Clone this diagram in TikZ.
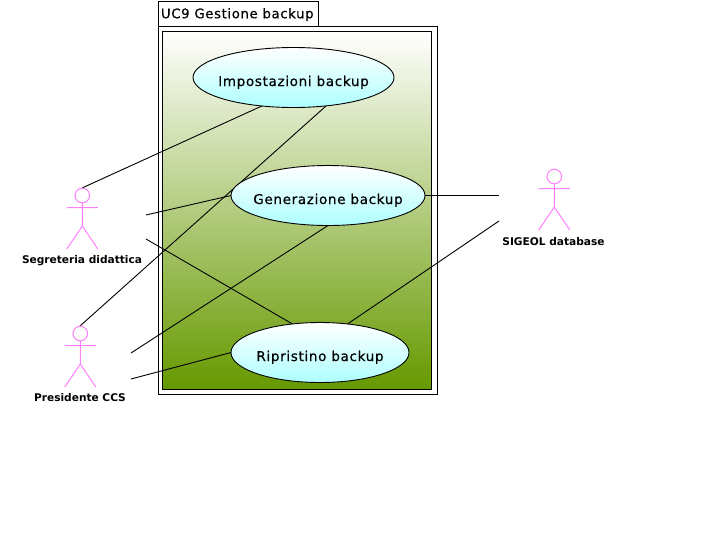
\documentclass[tikz,border=0pt]{standalone}
\usepackage{fontspec}
\setmainfont{DejaVu Sans}
\newfontfamily\ucfont[LetterSpace=5,FakeBold=0.5]{DejaVu Sans}
\usetikzlibrary{shapes.geometric}
\definecolor{actorpink}{HTML}{FF80FF}
\definecolor{boxgreen}{HTML}{669900}
\definecolor{usecyan}{HTML}{AEFFFF}
\pgfdeclarelayer{backdrop}
\pgfdeclarelayer{links}
\pgfsetlayers{backdrop,links,main}
\newcommand{\uclabel}[1]{\raisebox{-8.5pt}[0pt][0pt]{\makebox[0pt]{#1}}}
\tikzset{
  x=1pt,y=-1pt,
  box/.style={draw=black,line width=1pt,inner sep=0,outer sep=0},
  uctext/.style={font=\ucfont\fontsize{13.5}{15}\selectfont},
  usecase/.style={ellipse,draw=black,line width=0.9pt,inner sep=0,outer sep=0,top color=white,bottom color=usecyan,uctext},
  link/.style={draw=black,line width=0.9pt},
  actorline/.style={draw=actorpink,line width=1pt},
  actorlabel/.style={font=\fontsize{10.6}{12}\selectfont\bfseries,inner sep=0,anchor=base},
  pics/actor/.style={code={
    \draw[actorline] (0,0) circle[radius=7.3];
    \draw[actorline] (0,7.3) -- (0,30.5) (-15.5,12) -- (15.5,12) (-15.5,53.5) -- (0,30.5) -- (15.5,53.5);
  }}
}
\begin{document}
\begin{tikzpicture}
\useasboundingbox (0,0) rectangle (715,547);
\begin{pgfonlayer}{backdrop}
\fill[white] (0,0) rectangle (715,547);
\node[box,anchor=north west,minimum width=279pt,minimum height=368pt,fill=white] (pkg) at (158,26.5) {};
\node[box,anchor=north west,minimum width=160pt,minimum height=25.5pt,fill=white,font=\ucfont\fontsize{13.2}{15}\selectfont] (tab) at (158,1) {\raisebox{-4.5pt}[0pt][0pt]{\makebox[154pt][l]{UC9 Gestione backup}}};
\node[box,anchor=north west,minimum width=269pt,minimum height=358pt,top color=white,bottom color=boxgreen] (frame) at (162.5,31) {};
\end{pgfonlayer}
\coordinate (segTop) at (82,188);
\coordinate (segA) at (146,215);
\coordinate (segB) at (146,239);
\coordinate (preTop) at (80,326);
\coordinate (preA) at (131,353);
\coordinate (preB) at (131,379);
\coordinate (sigA) at (499,195.5);
\coordinate (sigB) at (499,221);
\node[usecase,minimum width=201pt,minimum height=60pt] (imp) at (293.5,77.5) {\uclabel{Impostazioni backup}};
\node[usecase,minimum width=194pt,minimum height=60pt] (gen) at (328,195.5) {\uclabel{Generazione backup}};
\node[usecase,minimum width=178pt,minimum height=60pt] (rip) at (320,352.5) {\uclabel{Ripristino backup}};
\begin{pgfonlayer}{links}
\draw[link] (segTop) -- (imp.-138.6);
\draw[link] (preTop) -- (imp.-41.4);
\draw[link] (segA) -- (gen.west);
\draw[link] (segB) -- (rip.134);
\draw[link] (preA) -- (gen.south);
\draw[link] (preB) -- (rip.west);
\draw[link] (gen.east) -- (sigA);
\draw[link] (rip.46) -- (sigB);
\end{pgfonlayer}
\pic at (82.3,195.5) {actor};
\pic at (80.3,333.5) {actor};
\pic at (554.3,176.5) {actor};
\node[actorlabel] (segl) at (82,263.5) {Segreteria didattica};
\node[actorlabel] (prel) at (80,401.7) {Presidente CCS};
\node[actorlabel] (sigl) at (553.5,245) {SIGEOL database};
\end{tikzpicture}
\end{document}
